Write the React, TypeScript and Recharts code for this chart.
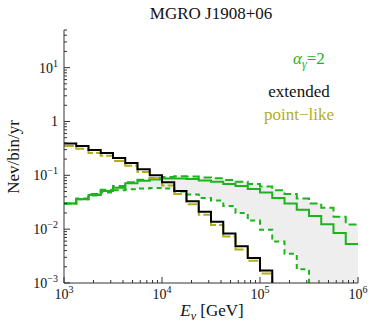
import React from 'react';
import { ComposedChart, Line, Area, XAxis, YAxis } from 'recharts';

// bin edges, 8 bins per decade (GeV)
const BIN_EDGES = [
    1000, 1334, 1778, 2371, 3162, 4217, 5623, 7499,
    10000, 13335, 17783, 23714, 31623, 42170, 56234, 74989,
    100000, 133352, 177828, 237137, 316228, 421697, 562341, 749894,
    1000000,
];

// Nev/bin/yr per bin (last entries fall below the frame)
const EXTENDED = [0.39, 0.35, 0.295, 0.26, 0.21, 0.17, 0.13, 0.1, 0.074, 0.051, 0.033, 0.021, 0.0137, 0.0083, 0.0048, 0.0029, 0.0017, 0.0009];
const POINT_LIKE = [0.35, 0.31, 0.26, 0.23, 0.185, 0.15, 0.115, 0.088, 0.065, 0.045, 0.029, 0.0185, 0.012, 0.0073, 0.0042, 0.0026, 0.0015, 0.0008];
const ALPHA2 = [0.03, 0.036, 0.043, 0.051, 0.059, 0.071, 0.079, 0.084, 0.087, 0.087, 0.085, 0.08, 0.076, 0.069, 0.063, 0.056, 0.048, 0.038, 0.03, 0.023, 0.0176, 0.0124, 0.0085, 0.0053];
const ALPHA2_HIGH = [0.03, 0.037, 0.045, 0.054, 0.063, 0.074, 0.083, 0.089, 0.093, 0.096, 0.095, 0.091, 0.088, 0.082, 0.076, 0.069, 0.062, 0.053, 0.045, 0.037, 0.03, 0.025, 0.017, 0.0122];
const ALPHA2_LOW = [0.03, 0.036, 0.042, 0.048, 0.053, 0.055, 0.057, 0.058, 0.057, 0.05, 0.044, 0.038, 0.034, 0.027, 0.02, 0.0145, 0.0098, 0.0059, 0.0035, 0.0018, 0.0008, 0.0003, 0.0001, 0.00004];

const X_TICKS = [1e3, 1e4, 1e5, 1e6];
const X_TICK_EXP = ['3', '4', '5', '6'];
const Y_TICKS = [0.001, 0.01, 0.1, 1, 10];
const Y_TICK_BASE = ['10', '10', '10', '1', '10'];
const Y_TICK_EXP = ['\u22123', '\u22122', '\u22121', '', '1'];

const GREEN = '#1db31d';
const OLIVE = '#b3ad1c';
const FONT = '"Liberation Serif", "DejaVu Serif", serif';

const MULT = [2, 3, 4, 5, 6, 7, 8, 9];
const X_MINOR = [1e3, 1e4, 1e5].flatMap((d) => MULT.map((m) => m * d));
const Y_MINOR = [1e-3, 1e-2, 1e-1, 1, 10].flatMap((d) => MULT.map((m) => m * d)).filter((v) => v <= 50);
const X_ALL = [...X_TICKS, ...X_MINOR].sort((a, b) => a - b);
const Y_ALL = [...Y_TICKS, ...Y_MINOR].sort((a, b) => a - b);

const n = BIN_EDGES.length;
const stepVal = (arr: number[], i: number) => {
    if (i < arr.length) return arr[i];
    if (i === n - 1 && arr.length >= n - 1) return arr[n - 2];
    return null;
};

const data = BIN_EDGES.map((e, i) => ({
    e,
    ext: stepVal(EXTENDED, i),
    pt: stepVal(POINT_LIKE, i),
    mid: stepVal(ALPHA2, i),
    high: stepVal(ALPHA2_HIGH, i),
    low: stepVal(ALPHA2_LOW, i),
    band: [stepVal(ALPHA2_LOW, i), stepVal(ALPHA2_HIGH, i)],
}));

const MAJOR = 6;
const MINOR = 3;

const BottomTick = (props: any) => {
    const { x, y, payload } = props;
    const k = X_TICKS.indexOf(payload.value);
    return (
        <g>
            <line x1={x} y1={y} x2={x} y2={y - (k >= 0 ? MAJOR : MINOR)} stroke="#333" />
            {k >= 0 && (
                <text x={x} y={y + 16} textAnchor="middle" fontFamily={FONT} fontSize={14} fill="#111">
                    10<tspan dy={-6} fontSize={10}>{X_TICK_EXP[k]}</tspan>
                </text>
            )}
        </g>
    );
};

const TopTick = (props: any) => {
    const { x, y, payload } = props;
    const k = X_TICKS.indexOf(payload.value);
    return <line x1={x} y1={y} x2={x} y2={y + (k >= 0 ? MAJOR : MINOR)} stroke="#333" />;
};

const LeftTick = (props: any) => {
    const { x, y, payload } = props;
    const k = Y_TICKS.indexOf(payload.value);
    return (
        <g>
            <line x1={x} y1={y} x2={x + (k >= 0 ? MAJOR : MINOR)} y2={y} stroke="#333" />
            {k >= 0 && (
                <text x={x - 6} y={y + 5} textAnchor="end" fontFamily={FONT} fontSize={14} fill="#111">
                    {Y_TICK_BASE[k]}
                    {Y_TICK_EXP[k] && <tspan dy={-6} fontSize={10}>{Y_TICK_EXP[k]}</tspan>}
                </text>
            )}
        </g>
    );
};

const RightTick = (props: any) => {
    const { x, y, payload } = props;
    const k = Y_TICKS.indexOf(payload.value);
    return <line x1={x} y1={y} x2={x - (k >= 0 ? MAJOR : MINOR)} y2={y} stroke="#333" />;
};

const App: React.FC = () => {
    return (
        <div style={{ position: 'fixed', left: 0, top: 0, width: 372, height: 322, background: '#fff' }}>
            <ComposedChart width={372} height={322} data={data} margin={{ top: 30, right: 14, bottom: 0, left: 0 }}>
                <XAxis
                    dataKey="e" type="number" scale="log" domain={[1e3, 1e6]} allowDataOverflow
                    ticks={X_ALL} interval={0} tickSize={0} tickMargin={0} height={39}
                    tick={<BottomTick />} axisLine={{ stroke: '#333' }} tickLine={false}
                />
                <XAxis
                    xAxisId="top" orientation="top" dataKey="e" type="number" scale="log" domain={[1e3, 1e6]} allowDataOverflow
                    ticks={X_ALL} interval={0} tickSize={0} tickMargin={0} height={0}
                    tick={<TopTick />} axisLine={{ stroke: '#333' }} tickLine={false}
                />
                <YAxis
                    type="number" scale="log" domain={[1e-3, 50]} allowDataOverflow
                    ticks={Y_ALL} interval={0} tickSize={0} tickMargin={0} width={64}
                    tick={<LeftTick />} axisLine={{ stroke: '#333' }} tickLine={false}
                />
                <YAxis
                    yAxisId="right" orientation="right" type="number" scale="log" domain={[1e-3, 50]} allowDataOverflow
                    ticks={Y_ALL} interval={0} tickSize={0} tickMargin={0} width={0}
                    tick={<RightTick />} axisLine={{ stroke: '#333' }} tickLine={false}
                />
                <Area dataKey="band" type="stepAfter" fill="#eeeeee" fillOpacity={1} stroke="none" isAnimationActive={false} />
                <Line dataKey="low" type="stepAfter" stroke={GREEN} strokeWidth={2} strokeDasharray="5 4" dot={false} isAnimationActive={false} />
                <Line dataKey="high" type="stepAfter" stroke={GREEN} strokeWidth={2} strokeDasharray="8 4" dot={false} isAnimationActive={false} />
                <Line dataKey="mid" type="stepAfter" stroke={GREEN} strokeWidth={2} dot={false} isAnimationActive={false} />
                <Line dataKey="pt" type="stepAfter" stroke={OLIVE} strokeWidth={2} strokeDasharray="10 3" dot={false} isAnimationActive={false} />
                <Line dataKey="ext" type="stepAfter" stroke="#000" strokeWidth={2} dot={false} isAnimationActive={false} />
            </ComposedChart>
            <svg width={372} height={322} style={{ position: 'absolute', left: 0, top: 0, pointerEvents: 'none' }} fontFamily={FONT}>
                <text x={211} y={19} textAnchor="middle" fontSize={17} fill="#111">MGRO J1908+06</text>
                <text x={309} y={64} textAnchor="middle" fontSize={17} fill={GREEN} fontStyle="italic">
                    α<tspan dy={4} fontSize={12}>γ</tspan><tspan dy={-4} fontStyle="normal">=2</tspan>
                </text>
                <text x={299} y={97} textAnchor="middle" fontSize={17} fill="#111">extended</text>
                <text x={299} y={120} textAnchor="middle" fontSize={17} fill={OLIVE}>point−like</text>
                <text x={0} y={0} transform="translate(19,157) rotate(-90)" textAnchor="middle" fontSize={17} fill="#111">Nev/bin/yr</text>
                <text x={212} y={316} textAnchor="middle" fontSize={17} fill="#111">
                    <tspan fontStyle="italic">E</tspan><tspan dy={4} fontSize={12} fontStyle="italic">ν</tspan><tspan dy={-4}> [GeV]</tspan>
                </text>
            </svg>
        </div>
    );
};

export default App;
